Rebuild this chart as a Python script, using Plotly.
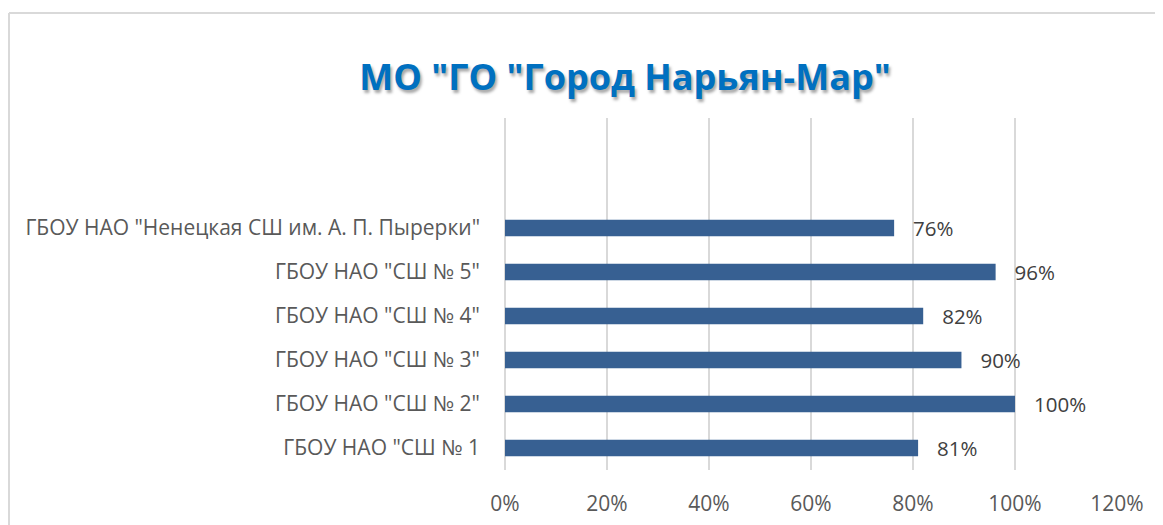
import plotly.graph_objects as go

categories = [
    'ГБОУ НАО "СШ № 1',
    'ГБОУ НАО "СШ № 2"',
    'ГБОУ НАО "СШ № 3"',
    'ГБОУ НАО "СШ № 4"',
    'ГБОУ НАО "СШ № 5"',
    'ГБОУ НАО "Ненецкая СШ им. А. П. Пырерки"',
]
values = [0.81, 1.00, 0.895, 0.82, 0.962, 0.763]
x_ticks = [0, 0.2, 0.4, 0.6, 0.8, 1.0, 1.2]
x_tick_labels = ["0%", "20%", "40%", "60%", "80%", "100%", "120%"]
title_text = 'МО "ГО "Город Нарьян-Мар"'

OFF = 8  # page body margin
W, H = 1163, 525
L = 505 - OFF
T = 118 - OFF
R = W + OFF - 1117
B = H + OFF - 470
pw, ph = W - L - R, H - T - B

fig = go.Figure()
fig.add_trace(go.Bar(
    y=categories, x=values, orientation="h",
    marker=dict(color="#376092", line=dict(width=0)),
    width=0.37,
    text=["\u00a0\u00a0\u00a0" + f"{round(v*100):.0f}%" for v in values],
    textposition="outside",
    constraintext="none",
    textfont=dict(family="Open Sans", size=20.5, color="#404040"),
    cliponaxis=False,
    hoverinfo="skip",
))

# chart border (left and top edges visible)
bx = (9 - OFF - L) / pw
by = (H - B - (13 - OFF)) / ph
fig.add_shape(type="line", xref="paper", yref="paper", x0=bx, x1=(W + 5 - L) / pw, y0=by, y1=by,
              line=dict(color="#D9D9D9", width=2))
fig.add_shape(type="line", xref="paper", yref="paper", x0=bx, x1=bx, y0=by, y1=(-B - 5) / ph,
              line=dict(color="#D9D9D9", width=2))

fig.update_layout(
    width=W, height=H,
    margin=dict(l=L, r=R, t=T, b=B),
    paper_bgcolor="white", plot_bgcolor="white",
    showlegend=False,
    title=dict(
        text=title_text,
        x=(625 - OFF) / W, xanchor="center",
        y=1 - (77 - OFF) / H, yanchor="middle",
        font=dict(family="Open Sans", size=36, color="#0070C0", weight="bold",
                  shadow="2px 3px 3px rgba(0,0,0,0.35)"),
    ),
    xaxis=dict(
        range=[0, 1.2],
        tickvals=x_ticks, ticktext=x_tick_labels,
        showgrid=True, gridcolor="#D9D9D9", gridwidth=1.5,
        zeroline=True, zerolinecolor="#D9D9D9", zerolinewidth=1.5,
        showline=False,
        tickfont=dict(family="Open Sans", size=21, color="#595959"),
        ticks="", ticklabelstandoff=19,
        fixedrange=True,
    ),
    yaxis=dict(
        type="category",
        categoryorder="array", categoryarray=categories,
        range=[-0.5, 7.5],
        showgrid=False, zeroline=False, showline=False,
        tickfont=dict(family="Open Sans", size=21, color="#595959"),
        ticks="", ticklabelstandoff=24,
        fixedrange=True,
    ),
)

fig.write_html("out.html")
